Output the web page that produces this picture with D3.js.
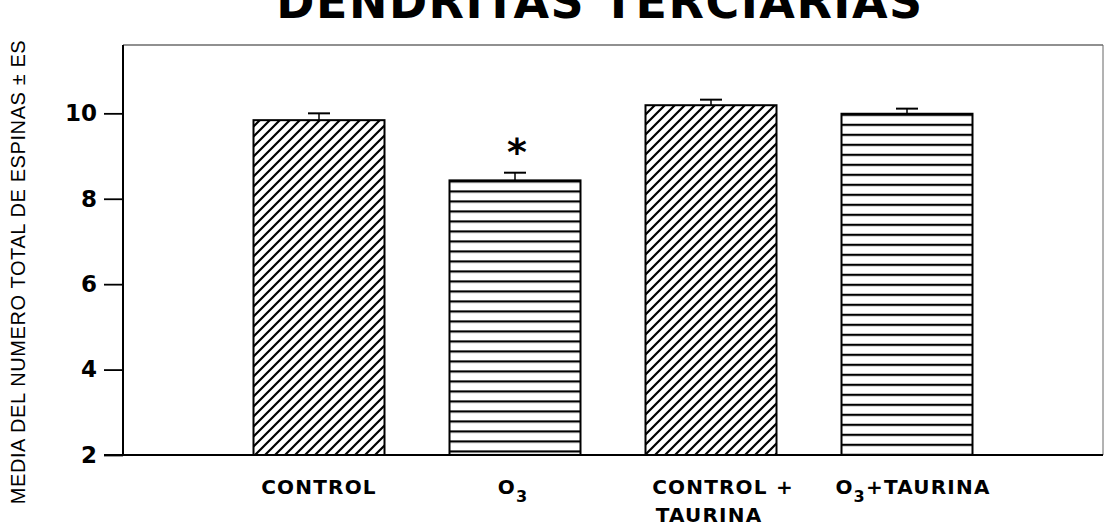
<!DOCTYPE html>
<html><head><meta charset="utf-8">
<script src="https://cdn.jsdelivr.net/npm/d3@7"></script>
<style>body{margin:0;background:#fff}svg{display:block}</style>
</head><body>
<svg id="c" width="1104" height="527"></svg>
<script>
const categories = ["CONTROL", "O3", "CONTROL + TAURINA", "O3+TAURINA"];
const means = [9.84, 8.43, 10.19, 9.99];
const errors = [0.16, 0.18, 0.13, 0.12];
const patterns = ["diag", "horiz", "diag", "horiz"];
const yTicks = [2, 4, 6, 8, 10];
const title = "DENDRITAS TERCIARIAS";
const yLabel = "MEDIA DEL  NUMERO TOTAL DE ESPINAS \u00B1 ES";
const significant = [false, true, false, false];

const svg = d3.select("#c");
const L = 123, R = 1103, T = 45, B = 455;
const x = d3.scalePoint().domain(categories).range([L, R]).padding(1);
const y = d3.scaleLinear().domain([2, 11.6]).range([B, T]);
const bw = 131;
const handFont = "'DejaVu Sans', sans-serif";

const defs = svg.append("defs");
const dp = defs.append("pattern").attr("id", "diag").attr("patternUnits", "userSpaceOnUse")
  .attr("width", 10).attr("height", 10);
dp.append("rect").attr("width", 10).attr("height", 10).attr("fill", "#fff");
dp.append("path").attr("d", "M-2,2 l4,-4 M0,10 l10,-10 M8,12 l4,-4")
  .attr("stroke", "#000").attr("stroke-width", 2.2);

categories.forEach((c, i) => {
  if (patterns[i] !== "horiz") return;
  const p = defs.append("pattern").attr("id", "h" + i).attr("patternUnits", "userSpaceOnUse")
    .attr("x", 0).attr("y", y(means[i])).attr("width", 20).attr("height", 10);
  p.append("rect").attr("width", 20).attr("height", 10).attr("fill", "#fff");
  p.append("rect").attr("y", 0).attr("width", 20).attr("height", 2.2).attr("fill", "#000");
});

// frame
svg.append("line").attr("x1", L).attr("x2", R).attr("y1", T).attr("y2", T).attr("stroke", "#222").attr("stroke-width", 1.2);
svg.append("line").attr("x1", R).attr("x2", R).attr("y1", T).attr("y2", B).attr("stroke", "#666").attr("stroke-width", 1);

// bars
const g = svg.append("g");
categories.forEach((c, i) => {
  g.append("rect")
    .attr("x", x(c) - bw / 2).attr("y", y(means[i]))
    .attr("width", bw).attr("height", y(2) - y(means[i]))
    .attr("fill", patterns[i] === "diag" ? "url(#diag)" : "url(#h" + i + ")")
    .attr("stroke", "#000").attr("stroke-width", 2);
  const yt = y(means[i] + errors[i]);
  g.append("line").attr("x1", x(c)).attr("x2", x(c)).attr("y1", y(means[i])).attr("y2", yt)
    .attr("stroke", "#000").attr("stroke-width", 1.5);
  g.append("line").attr("x1", x(c) - 11).attr("x2", x(c) + 11).attr("y1", yt).attr("y2", yt)
    .attr("stroke", "#000").attr("stroke-width", 2);
  if (significant[i]) {
    g.append("text").attr("x", x(c) + 2).attr("y", yt - 8).attr("text-anchor", "middle")
      .attr("font-family", handFont).attr("font-weight", "bold").attr("font-size", 38).text("*");
  }
});

// y axis
const ya = svg.append("g").attr("transform", `translate(${L},0)`)
  .call(d3.axisLeft(y).tickValues(yTicks).tickSize(19).tickPadding(7).tickFormat(d3.format("d")));
ya.select(".domain").attr("stroke", "#000").attr("stroke-width", 2).attr("d", `M0,${T}V${B}`);
ya.selectAll(".tick line").attr("stroke", "#000").attr("stroke-width", 1.8);
ya.selectAll(".tick text").attr("font-family", handFont).attr("font-weight", "bold")
  .attr("font-size", 23).attr("fill", "#000");

// x baseline
svg.append("line").attr("x1", L - 19).attr("x2", R).attr("y1", B).attr("y2", B).attr("stroke", "#000").attr("stroke-width", 2);

// x labels
const xl = svg.append("g").attr("font-family", handFont).attr("font-weight", "bold")
  .attr("font-size", 20).attr("letter-spacing", 1.2).attr("fill", "#000").attr("text-anchor", "middle");
function o3(t, xx, yy, anchor) {
  const tx = xl.append("text").attr("x", xx).attr("y", yy).attr("text-anchor", anchor || "middle");
  const parts = t.split("O3");
  parts.forEach((p, k) => {
    if (k > 0) {
      tx.append("tspan").text("O");
      tx.append("tspan").attr("dy", 8).attr("font-size", 16).text("3");
      tx.append("tspan").attr("dy", -8).text(p);
    } else if (p) tx.append("tspan").text(p);
  });
}
o3("CONTROL", x(categories[0]), 494);
o3("O3", x(categories[1]) - 2, 494);
xl.append("text").attr("x", x(categories[2]) + 12).attr("y", 494).text("CONTROL +");
xl.append("text").attr("x", x(categories[2]) - 2).attr("y", 522).text("TAURINA");
o3("O3+TAURINA", x(categories[3]) + 6, 494);

// title
svg.append("text").attr("x", 600).attr("y", 18).attr("text-anchor", "middle")
  .attr("font-family", handFont).attr("font-weight", "bold").attr("font-size", 46)
  .attr("letter-spacing", 1.5).text(title);

// y label
svg.append("text").attr("transform", "translate(25,272) rotate(-90)").attr("text-anchor", "middle")
  .attr("font-family", "'Liberation Sans', Arial, sans-serif").attr("font-size", 20)
  .attr("letter-spacing", 0.6).attr("fill", "#000")
  .text(yLabel);
</script>
</body></html>
